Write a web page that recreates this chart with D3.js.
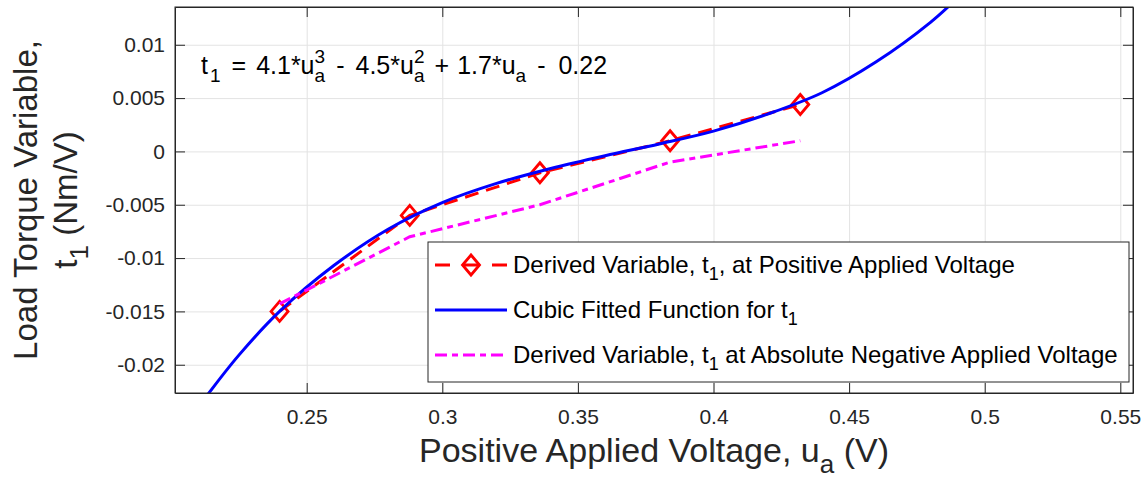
<!DOCTYPE html>
<html lang="en">
<head>
<meta charset="UTF-8">
<title>Load torque variable t1</title>
<style>
    body { margin: 0; background: #fff; }
    svg { display: block; font-family: "Liberation Sans", Arial, Helvetica, sans-serif; }
    .axis text { font-size: 21px; fill: #262626; }
    .axis path, .axis line { stroke: #262626; stroke-width: 1; }
    .grid line { stroke: #e3e3e3; stroke-width: 1; }
    .grid path { display: none; }
</style>
</head>
<body>
<div id="chart"></div>
<script src="https://d3js.org/d3.v7.min.js"></script>
<script>
// measured data, positive applied voltage (V)
const voltage = [0.24, 0.288, 0.336, 0.384, 0.432];
const t1Positive = [-0.015, -0.006, -0.002, 0.001, 0.0044];
const t1Negative = [-0.0143, -0.008, -0.005, -0.001, 0.001];

// cubic fitted curve
const fitVoltage = [0.212, 0.225, 0.24, 0.26, 0.28, 0.30, 0.32, 0.34, 0.36, 0.38,
    0.40, 0.42, 0.44, 0.46, 0.48, 0.49];
const fitT1 = [-0.0233, -0.0191, -0.0150, -0.0107, -0.0073, -0.0048, -0.0030, -0.0016, -0.0004, 0.0007,
    0.0019, 0.0035, 0.0055, 0.0084, 0.0121, 0.0144];

const xTicks = [0.25, 0.3, 0.35, 0.4, 0.45, 0.5, 0.55];
const xTickLabels = ["0.25", "0.3", "0.35", "0.4", "0.45", "0.5", "0.55"];
const yTicks = [-0.02, -0.015, -0.01, -0.005, 0, 0.005, 0.01];
const yTickLabels = ["-0.02", "-0.015", "-0.01", "-0.005", "0", "0.005", "0.01"];

// text pieces: [text, baseline offset (px, + is down), small font?, dx]
const legendLabels = [
    [["Derived Variable, t", 0], ["1", 7, true], [", at Positive Applied Voltage", 0]],
    [["Cubic Fitted Function for t", 0], ["1", 7, true]],
    [["Derived Variable, t", 0], ["1", 7, true], [" at Absolute Negative Applied Voltage", 0]]
];

const W = 1146, H = 479;
const margin = {top: 7, right: 13, bottom: 86, left: 175};
const width = W - margin.left - margin.right,
      height = H - margin.top - margin.bottom;

const x = d3.scaleLinear().domain([0.20144, 0.55468]).range([0, width]);
const y = d3.scaleLinear().domain([-0.02265, 0.01354]).range([height, 0]);

const svg = d3.select("#chart").append("svg")
    .attr("width", W)
    .attr("height", H);

// writes pieces into a text element, handling sub/superscript offsets
function richText(textSel, parts, smallSize) {
    let cur = 0;
    parts.forEach(p => {
        const ts = textSel.append("tspan").attr("dy", p[1] - cur).text(p[0]);
        if (p[2]) ts.attr("font-size", smallSize);
        if (p[3]) ts.attr("dx", p[3]);
        cur = p[1];
    });
}

const g = svg.append("g")
    .attr("transform", "translate(" + margin.left + "," + margin.top + ")");

g.append("rect").attr("width", width).attr("height", height).attr("fill", "#fff");

// grid
g.append("g").attr("class", "grid")
    .attr("transform", "translate(0," + height + ")")
    .call(d3.axisBottom(x).tickValues(xTicks).tickSize(-height).tickFormat(""));
g.append("g").attr("class", "grid")
    .call(d3.axisLeft(y).tickValues(yTicks).tickSize(-width).tickFormat(""));

g.append("clipPath").attr("id", "plotclip")
    .append("rect").attr("width", width).attr("height", height);

const plot = g.append("g").attr("clip-path", "url(#plotclip)");

const posPts = voltage.map((v, i) => [v, t1Positive[i]]);
const negPts = voltage.map((v, i) => [v, t1Negative[i]]);
const fitPts = fitVoltage.map((v, i) => [v, fitT1[i]]);

const line = d3.line().x(d => x(d[0])).y(d => y(d[1]));

plot.append("path").datum(posPts)
    .attr("d", line)
    .attr("fill", "none")
    .attr("stroke", "#ff0000")
    .attr("stroke-width", 3)
    .attr("stroke-dasharray", "14,8");

const diamond = "M0,-10L8.5,0L0,10L-8.5,0Z";
plot.selectAll(".marker").data(posPts).enter().append("path")
    .attr("class", "marker")
    .attr("d", diamond)
    .attr("transform", d => "translate(" + x(d[0]) + "," + y(d[1]) + ")")
    .attr("fill", "none")
    .attr("stroke", "#ff0000")
    .attr("stroke-width", 2.8);

plot.append("path").datum(fitPts)
    .attr("d", d3.line().x(d => x(d[0])).y(d => y(d[1])).curve(d3.curveCatmullRom.alpha(0.5)))
    .attr("fill", "none")
    .attr("stroke", "#0000ff")
    .attr("stroke-width", 3);

plot.append("path").datum(negPts)
    .attr("d", line)
    .attr("fill", "none")
    .attr("stroke", "#ff00ff")
    .attr("stroke-width", 3)
    .attr("stroke-dasharray", "12,5,6,5");

// axes, ticks pointing inwards on all sides
g.append("g").attr("class", "axis")
    .attr("transform", "translate(0," + height + ")")
    .call(d3.axisBottom(x).tickValues(xTicks)
        .tickFormat((d, i) => xTickLabels[i])
        .tickSizeInner(-10).tickSizeOuter(0).tickPadding(16));
g.append("g").attr("class", "axis")
    .call(d3.axisLeft(y).tickValues(yTicks)
        .tickFormat((d, i) => yTickLabels[i])
        .tickSizeInner(-10).tickSizeOuter(0).tickPadding(10));
g.append("g").attr("class", "axis")
    .call(d3.axisTop(x).tickValues(xTicks).tickFormat("").tickSizeInner(-10).tickSizeOuter(0));
g.append("g").attr("class", "axis")
    .attr("transform", "translate(" + width + ",0)")
    .call(d3.axisRight(y).tickValues(yTicks).tickFormat("").tickSizeInner(-10).tickSizeOuter(0));

g.append("rect").attr("width", width).attr("height", height)
    .attr("fill", "none").attr("stroke", "#262626").attr("stroke-width", 1);

// equation
const eq = g.append("text")
    .attr("x", 26).attr("y", 67)
    .attr("font-size", 25)
    .attr("fill", "#000");
richText(eq, [
    ["t", 0], ["1", 8, true, 2],
    ["=", 0, false, 11], ["4.1*u", 0, false, 10],
    ["a", 8, true], ["3", -11, true, -10.5],
    ["-", 0, false, 11], ["4.5*u", 0, false, 11],
    ["a", 8, true], ["2", -11, true, -10.5],
    ["+", 0, false, 10], ["1.7*u", 0, false, 8],
    ["a", 8, true],
    ["-", 0, false, 11], ["0.22", 0, false, 13]
], 19);

// legend
const legend = g.append("g").attr("transform", "translate(" + (428 - margin.left) + "," + (242 - margin.top) + ")");
legend.append("rect").attr("width", 701).attr("height", 140)
    .attr("fill", "#fff").attr("stroke", "#262626").attr("stroke-width", 1);
const rowY = [23, 68, 113];
const styles = [
    {color: "#ff0000", dash: "15,12.5,17,12.5,15", marker: true},
    {color: "#0000ff", dash: null, marker: false},
    {color: "#ff00ff", dash: "12,5,6,5", marker: false}
];
legendLabels.forEach((parts, i) => {
    const s = styles[i];
    legend.append("line")
        .attr("x1", 7).attr("x2", 79).attr("y1", rowY[i]).attr("y2", rowY[i])
        .attr("stroke", s.color).attr("stroke-width", 3)
        .attr("stroke-dasharray", s.dash);
    if (s.marker) {
        legend.append("path").attr("d", diamond)
            .attr("transform", "translate(43," + rowY[i] + ")")
            .attr("fill", "none").attr("stroke", s.color).attr("stroke-width", 2.8);
    }
    const t = legend.append("text")
        .attr("x", 85).attr("y", rowY[i] + 8)
        .attr("font-size", 24).attr("fill", "#000");
    richText(t, parts, 18);
});

// axis labels
const xl = svg.append("text")
    .attr("x", margin.left + width / 2).attr("y", 462)
    .attr("text-anchor", "middle")
    .attr("font-size", 34).attr("fill", "#262626");
richText(xl, [["Positive Applied Voltage, u", 0], ["a", 11, true], [" (V)", 0]], 26);

const yl = svg.append("text")
    .attr("transform", "translate(37," + (margin.top + height / 2) + ") rotate(-90)")
    .attr("text-anchor", "middle")
    .attr("font-size", 33).attr("fill", "#262626")
    .text("Load Torque Variable,");
const yl2 = svg.append("text")
    .attr("transform", "translate(77," + (margin.top + height / 2) + ") rotate(-90)")
    .attr("text-anchor", "middle")
    .attr("font-size", 33).attr("fill", "#262626");
richText(yl2, [["t", 0], ["1", 11, true], [" (Nm/V)", 0]], 26);
</script>
</body>
</html>
